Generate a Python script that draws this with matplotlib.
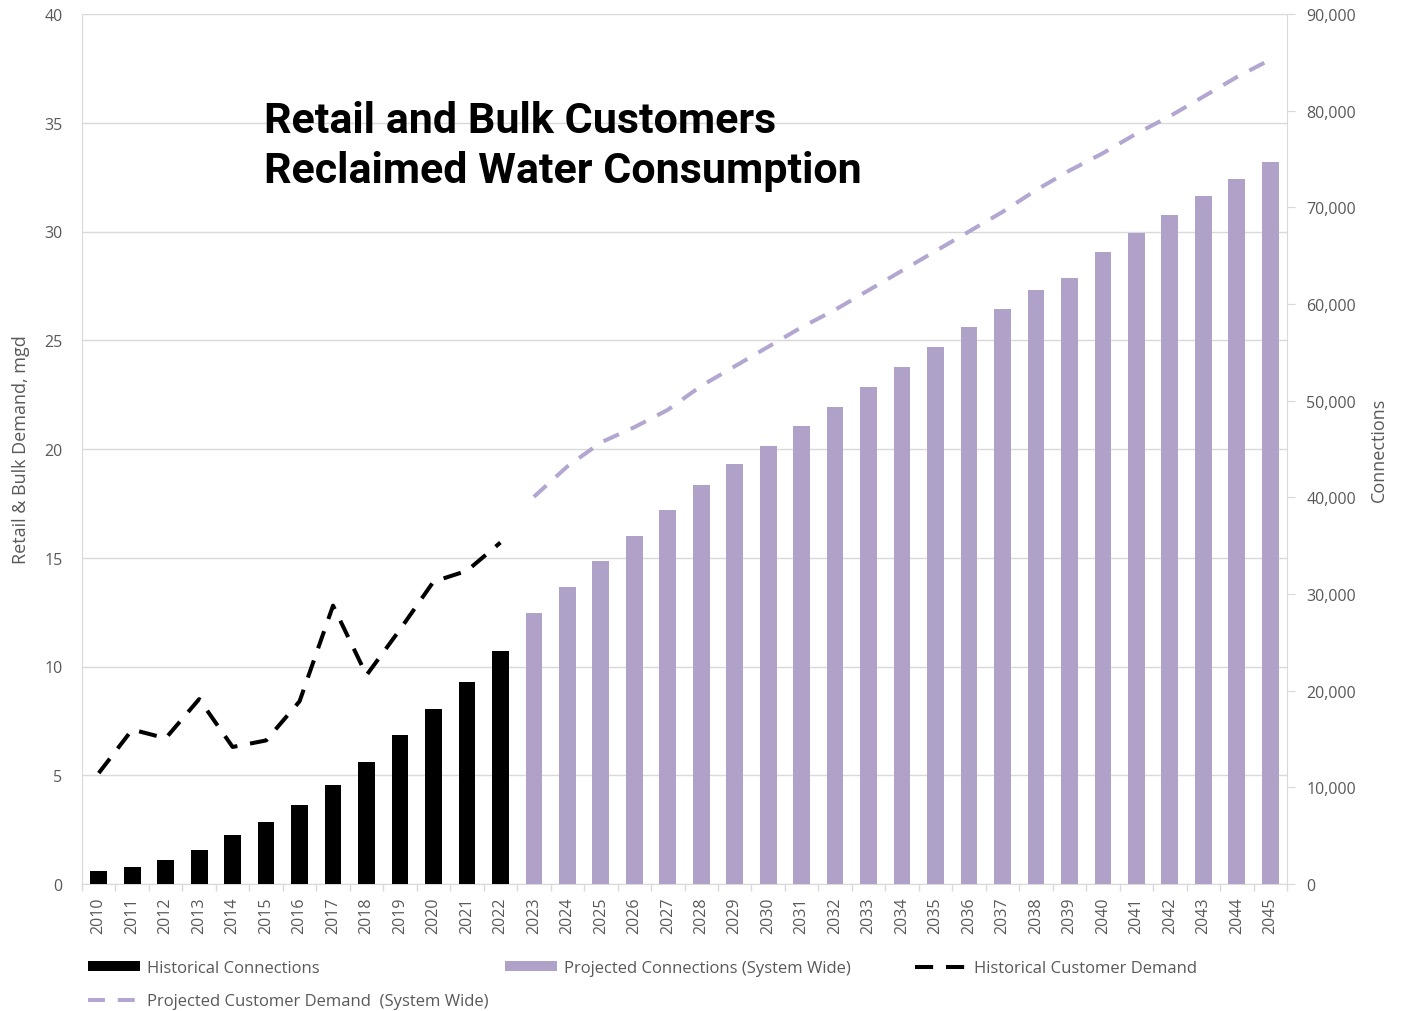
#!/usr/bin/env python3
"""Retail and bulk customers: reclaimed water connections (bars) and demand (dashed lines)."""

import matplotlib
matplotlib.use("Agg")
import matplotlib.pyplot as plt
from matplotlib.ticker import FuncFormatter, FixedLocator

years = list(range(2010, 2046))
hist_years = list(range(2010, 2023))
proj_years = list(range(2023, 2046))

# connections (right axis)
hist_conn = [1350, 1760, 2480, 3520, 5070, 6410, 8170, 10240, 12620, 15410, 18100, 20900, 24100]
proj_conn = [28030, 30720, 33410, 36000, 38690, 41280, 43450, 45310, 47380, 49340, 51410,
             53480, 55550, 57620, 59480, 61450, 62690, 65380, 67340, 69210, 71170, 72930, 74690]

# demand, mgd (left axis)
hist_demand = [5.1, 7.1, 6.7, 8.5, 6.3, 6.6, 8.4, 12.8, 9.6, 11.7, 13.9, 14.4, 15.7]
proj_demand = [17.8, 19.2, 20.3, 21.0, 21.8, 22.9, 23.8, 24.7, 25.6, 26.4, 27.3, 28.2,
               29.1, 30.0, 30.9, 31.9, 32.8, 33.6, 34.5, 35.3, 36.2, 37.1, 37.9]

PURPLE = "#afa1c7"
PURPLE_LINE = "#b3a6d0"
GRID = "#d9d9d9"
TEXT = "#595959"
FONT = "Open Sans"

plt.rcParams["font.family"] = [FONT, "DejaVu Sans"]

fig = plt.figure(figsize=(14.05, 10.12), dpi=100)
ax = fig.add_axes([82 / 1405, 1 - 885 / 1012, (1287 - 82) / 1405, 870 / 1012])
ax2 = ax.twinx()
ax3 = ax.twinx()

idx = {y: i for i, y in enumerate(years)}
hx = [idx[y] for y in hist_years]
px = [idx[y] for y in proj_years]

# bars on connections axis
b1 = ax2.bar(hx, hist_conn, width=0.5, color="black", label="Historical Connections")
b2 = ax2.bar(px, proj_conn, width=0.5, color=PURPLE, label="Projected Connections (System Wide)")

# demand lines
l1, = ax3.plot(hx, hist_demand, color="black", lw=2.9, ls=(0, (4.5, 3.2)),
               label="Historical Customer Demand")
l2, = ax3.plot(px, proj_demand, color=PURPLE_LINE, lw=2.9, ls=(0, (4.2, 3.2)),
               label="Projected Customer Demand  (System Wide)")

for a in (ax, ax2, ax3):
    a.set_xlim(-0.5, len(years) - 0.5)
ax.set_ylim(0, 40)
ax3.set_ylim(0, 40)
ax2.set_ylim(0, 90000)

# left axis + grid
ax.set_yticks(range(0, 41, 5))
ax.yaxis.grid(True, color=GRID, lw=1)
ax.set_axisbelow(True)
ax.tick_params(axis="y", length=0, pad=14, labelsize=11.5, labelcolor=TEXT)
ax.set_ylabel("Retail & Bulk Demand, mgd", fontsize=13, color=TEXT, labelpad=10)

# x axis
ax.set_xticks(range(len(years)))
ax.set_xticklabels([str(y) for y in years], rotation=90, fontsize=11.5, color=TEXT)
ax.tick_params(axis="x", which="major", length=0, pad=9)
ax.xaxis.set_minor_locator(FixedLocator([i - 0.5 for i in range(len(years) + 1)]))
ax.tick_params(axis="x", which="minor", length=5, color=GRID, width=1)

# right axis
ax2.set_yticks(range(0, 90001, 10000))
ax2.yaxis.set_major_formatter(FuncFormatter(lambda v, p: f"{int(v):,}"))
ax2.tick_params(axis="y", length=6, color=GRID, pad=8, labelsize=11.5, labelcolor=TEXT)
ax2.set_ylabel("Connections", fontsize=13, color=TEXT, labelpad=10)

ax3.set_yticks([])
for a in (ax, ax2, ax3):
    for s in a.spines.values():
        s.set_visible(False)
ax.spines["left"].set_visible(True)
ax.spines["left"].set_color(GRID)
ax.spines["bottom"].set_visible(True)
ax.spines["bottom"].set_color(GRID)
ax2.spines["right"].set_visible(True)
ax2.spines["right"].set_color(GRID)

# title inside plot
fig.text(264 / 1405, 1 - 101 / 1012, "Retail and Bulk Customers\nReclaimed Water Consumption",
         fontsize=31, fontweight="bold", family="Roboto", color="black", va="top",
         linespacing=1.28)

# legends
leg_kw = dict(frameon=False, fontsize=12, labelcolor=TEXT, handlelength=3.1,
              handleheight=0.5, handletextpad=0.45, borderaxespad=0, borderpad=0)
top = 1 - 961 / 1012
lg1 = fig.legend(handles=[b1, l2], loc="upper left", bbox_to_anchor=(88 / 1405, top),
                 labelspacing=1.05, **leg_kw)
lg2 = fig.legend(handles=[b2], loc="upper left", bbox_to_anchor=(505 / 1405, top), **leg_kw)
lg3 = fig.legend(handles=[l1], loc="upper left", bbox_to_anchor=(915 / 1405, top), **leg_kw)

fig.savefig("out.png", dpi=100)
